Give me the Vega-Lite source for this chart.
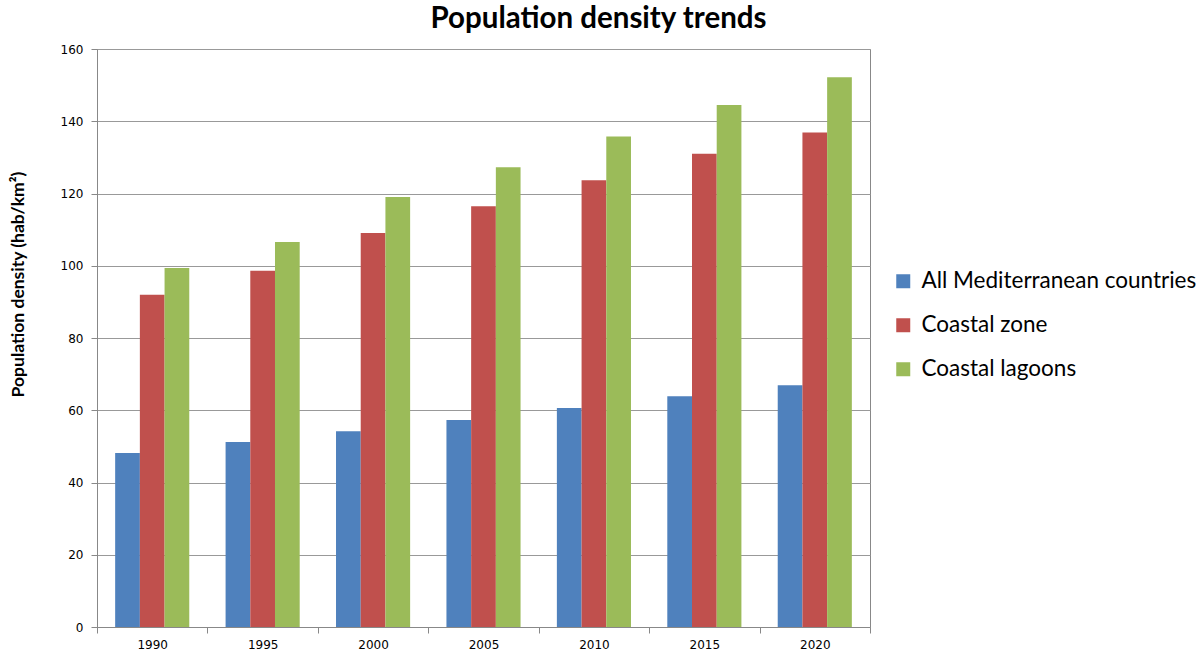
{
  "$schema": "https://vega.github.io/schema/vega-lite/v6.json",
  "autosize": {"type": "none"},
  "padding": {"left": 97, "top": 49, "right": 330, "bottom": 30},
  "width": 773,
  "height": 578,
  "background": "white",
  "title": {
    "text": "Population density trends",
    "font": "Lato",
    "fontSize": 29.5,
    "fontWeight": "bold",
    "color": "#000000",
    "anchor": "middle",
    "frame": "group",
    "dx": 115,
    "offset": 9
  },
  "data": {
    "values": [
      {"year": "1990", "series": "All Mediterranean countries", "value": 48.2},
      {"year": "1990", "series": "Coastal zone", "value": 92.0},
      {"year": "1990", "series": "Coastal lagoons", "value": 99.4},
      {"year": "1995", "series": "All Mediterranean countries", "value": 51.2},
      {"year": "1995", "series": "Coastal zone", "value": 98.6},
      {"year": "1995", "series": "Coastal lagoons", "value": 106.6},
      {"year": "2000", "series": "All Mediterranean countries", "value": 54.2},
      {"year": "2000", "series": "Coastal zone", "value": 109.1},
      {"year": "2000", "series": "Coastal lagoons", "value": 119.0},
      {"year": "2005", "series": "All Mediterranean countries", "value": 57.3},
      {"year": "2005", "series": "Coastal zone", "value": 116.5},
      {"year": "2005", "series": "Coastal lagoons", "value": 127.3},
      {"year": "2010", "series": "All Mediterranean countries", "value": 60.6},
      {"year": "2010", "series": "Coastal zone", "value": 123.7},
      {"year": "2010", "series": "Coastal lagoons", "value": 135.8},
      {"year": "2015", "series": "All Mediterranean countries", "value": 63.9},
      {"year": "2015", "series": "Coastal zone", "value": 131.0},
      {"year": "2015", "series": "Coastal lagoons", "value": 144.5},
      {"year": "2020", "series": "All Mediterranean countries", "value": 66.9},
      {"year": "2020", "series": "Coastal zone", "value": 136.9},
      {"year": "2020", "series": "Coastal lagoons", "value": 152.2}
    ]
  },
  "mark": {"type": "bar"},
  "encoding": {
    "x": {
      "field": "year",
      "type": "nominal",
      "scale": {"paddingInner": 0, "paddingOuter": 0},
      "axis": {
        "title": null,
        "labelAngle": 0,
        "labelFont": "DejaVu Sans",
        "labelFontSize": 12,
        "labelColor": "#000000",
        "labelPadding": 6,
        "tickBand": "extent",
        "tickColor": "#888888",
        "tickSize": 6,
        "domainColor": "#888888",
        "grid": false
      }
    },
    "xOffset": {
      "field": "series",
      "type": "nominal",
      "sort": ["All Mediterranean countries", "Coastal zone", "Coastal lagoons"],
      "scale": {"paddingInner": 0, "paddingOuter": 0.735}
    },
    "y": {
      "field": "value",
      "type": "quantitative",
      "scale": {"domain": [0, 160], "nice": false},
      "axis": {
        "title": "Population density (hab/km²)",
        "titleFont": "Lato",
        "titleFontSize": 17.5,
        "titleFontWeight": "bold",
        "titleColor": "#000000",
        "titleAngle": -90,
        "titleAlign": "center",
        "titleBaseline": "middle",
        "titleX": -79,
        "titleY": 235,
        "values": [0, 20, 40, 60, 80, 100, 120, 140, 160],
        "labelFont": "DejaVu Sans",
        "labelFontSize": 12,
        "labelColor": "#000000",
        "labelPadding": 8,
        "tickColor": "#888888",
        "tickSize": 6,
        "domainColor": "#888888",
        "gridColor": "#999999",
        "gridWidth": 1.2
      }
    },
    "color": {
      "field": "series",
      "type": "nominal",
      "sort": ["All Mediterranean countries", "Coastal zone", "Coastal lagoons"],
      "scale": {
        "domain": ["All Mediterranean countries", "Coastal zone", "Coastal lagoons"],
        "range": ["#4F81BD", "#C0504D", "#9BBB59"]
      },
      "legend": {
        "title": null,
        "orient": "none",
        "legendX": 795,
        "legendY": 221,
        "symbolType": "square",
        "symbolSize": 196,
        "symbolStrokeWidth": 0,
        "labelFont": "Lato",
        "labelFontSize": 22.5,
        "labelColor": "#000000",
        "labelLimit": 400,
        "labelOffset": 7,
        "rowPadding": 21
      }
    }
  },
  "config": {
    "view": {"stroke": "#888888"}
  }
}
